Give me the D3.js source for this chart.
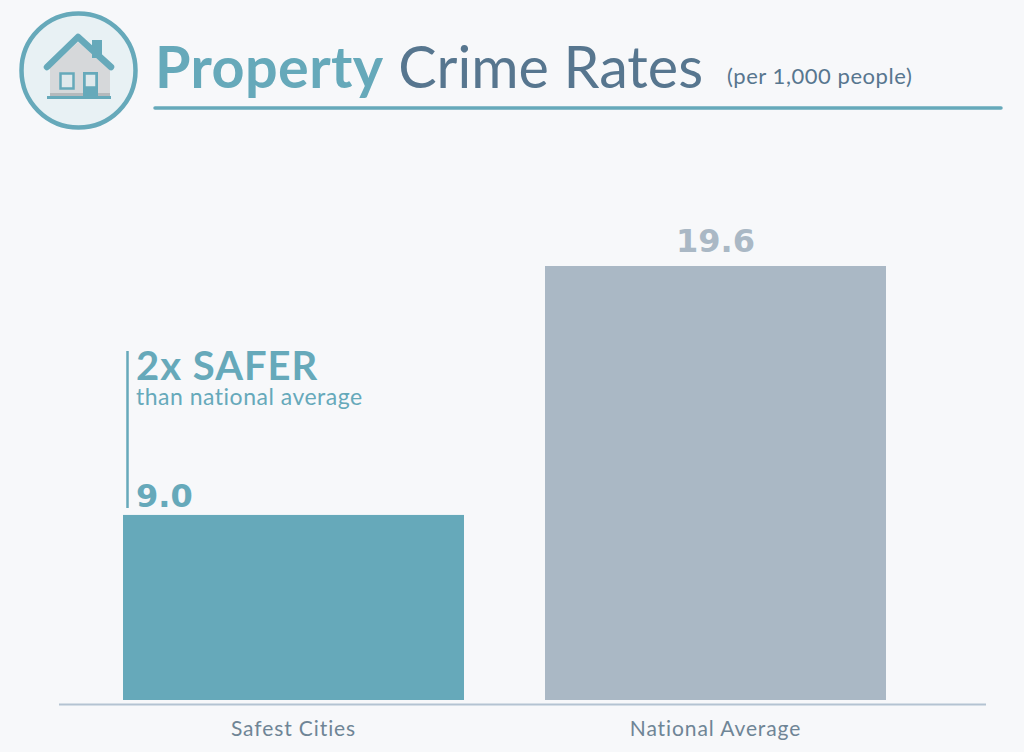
<!DOCTYPE html>
<html><head><meta charset="utf-8">
<script src="https://cdn.jsdelivr.net/npm/d3@7/dist/d3.min.js"></script>
<style>html,body{margin:0;padding:0;background:#f7f8fa}svg{display:block}text{font-family:Lato,"Noto Sans",sans-serif}</style>
</head><body><svg id="c" width="1024" height="752"></svg>
<script>
const categories = ["Safest Cities", "National Average"];
const values = [9.0, 19.6];
const valueLabels = ["9.0", "19.6"];
const barColors = ["#66a9ba", "#aab8c5"];
const titleParts = ["Property", " Crime Rates"];
const subtitle = "(per 1,000 people)";
const calloutHead = "2x SAFER";
const calloutSub = "than national average";

const svg = d3.select("#c");
const teal = "#66a9ba", slate = "#57768f", axisCol = "#b4c3d2";
svg.append("rect").attr("width",1024).attr("height",752).attr("fill","#f7f8fa");

const x = d3.scaleBand().domain(categories).range([82.5,926.5]).paddingInner(0.192).paddingOuter(0.096);
const y = d3.scaleLinear().domain([1.12,19.6]).range([700,266]);

// bars
svg.selectAll("rect.bar").data(values).join("rect").attr("class","bar")
  .attr("x",(d,i)=>x(categories[i])).attr("width",x.bandwidth())
  .attr("y",d=>y(d)).attr("height",d=>700-y(d)).attr("fill",(d,i)=>barColors[i]);

// axis
const axis = svg.append("g").attr("transform","translate(0,704)").call(d3.axisBottom(x).tickSize(0).tickPadding(17));
axis.select(".domain").remove();
axis.selectAll("text").attr("font-size",21).attr("fill","#6f8596").style("font-family","Lato,sans-serif").attr("letter-spacing",0.9);
svg.append("line").attr("x1",59).attr("x2",986).attr("y1",704.5).attr("y2",704.5).attr("stroke",axisCol).attr("stroke-width",2);

// value labels
svg.append("text").attr("x",136).attr("y",507).text(valueLabels[0])
  .attr("font-size",32).attr("font-weight",700).attr("fill",teal).style("font-family","'DejaVu Sans',sans-serif");
svg.append("text").attr("x",x(categories[1])+x.bandwidth()/2).attr("y",y(values[1])-14).attr("text-anchor","middle").text(valueLabels[1])
  .attr("font-size",32).attr("font-weight",700).attr("fill",barColors[1]).style("font-family","'DejaVu Sans',sans-serif");

// callout
svg.append("line").attr("x1",127.5).attr("x2",127.5).attr("y1",351).attr("y2",508).attr("stroke",teal).attr("stroke-width",2.5);
svg.append("text").attr("x",136).attr("y",380).text(calloutHead).attr("font-size",40).attr("font-weight",700).attr("letter-spacing",1).attr("fill",teal);
svg.append("text").attr("x",136).attr("y",405).text(calloutSub).attr("font-size",23).attr("letter-spacing",0.5).attr("fill",teal);

// title
const t = svg.append("text").attr("x",155).attr("y",88).attr("font-size",57.5);
t.append("tspan").text(titleParts[0]).attr("font-weight",700).attr("letter-spacing",0.4).attr("fill",teal);
t.append("tspan").text(titleParts[1]).attr("fill",slate).style("white-space","pre");
svg.append("text").attr("x",727).attr("y",84).text(subtitle).attr("font-size",22).attr("letter-spacing",0.55).attr("fill",slate);
svg.append("line").attr("x1",155).attr("x2",1001).attr("y1",108).attr("y2",108).attr("stroke",teal).attr("stroke-width",3.5).attr("stroke-linecap","round");

// icon
const ic = svg.append("g");
ic.append("circle").attr("cx",78.5).attr("cy",70.5).attr("r",57).attr("fill","#e8f1f4").attr("stroke",teal).attr("stroke-width",4.5);
ic.append("path").attr("d","M50 68L78 42L110 68V97H50Z").attr("fill","#d6d8da");
ic.append("rect").attr("x",50).attr("y",93).attr("width",60).attr("height",4).attr("fill","#b5b9bc");
ic.append("rect").attr("x",92).attr("y",40).attr("width",10).attr("height",18).attr("fill",teal);
ic.append("path").attr("d","M47 67L78 37L111 67").attr("fill","none").attr("stroke",teal).attr("stroke-width",6.5).attr("stroke-linecap","round").attr("stroke-linejoin","round");
ic.append("rect").attr("x",47).attr("y",96).attr("width",64).attr("height",3).attr("fill",teal);
ic.append("rect").attr("x",83).attr("y",72).attr("width",15).attr("height",25).attr("fill",teal);
[[60.5,73.5,13,15],[84.5,73.5,12,14]].forEach(p=>{
  ic.append("rect").attr("x",p[0]).attr("y",p[1]).attr("width",p[2]).attr("height",p[3]).attr("fill","#dfe9ec").attr("stroke",teal).attr("stroke-width",2.5);
});
</script></body></html>
